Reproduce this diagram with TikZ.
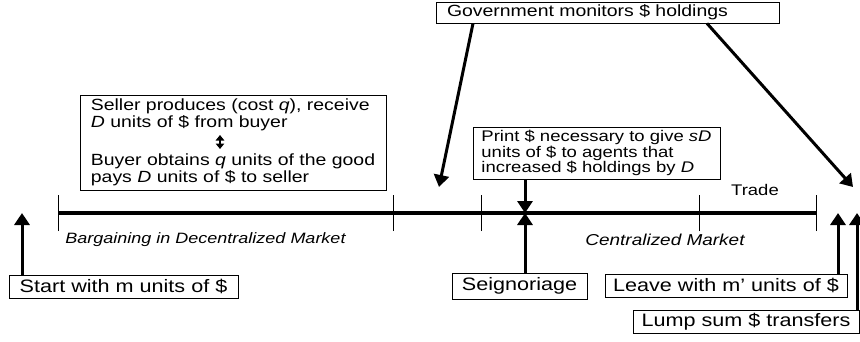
\documentclass[tikz,border=0pt]{standalone}
\usepackage{fontspec}
\setmainfont[FakeStretch=1.2]{Liberation Sans}
\usetikzlibrary{arrows.meta}
\begin{document}
\begin{tikzpicture}[x=1pt,y=-1pt,
  box/.style={draw,line width=0.8pt,inner sep=0pt},
  big/.style={font=\fontsize{18}{20}\selectfont},
  mid/.style={font=\fontsize{16.2}{16.5}\selectfont},
  small/.style={font=\fontsize{15.4}{15.5}\selectfont},
  lab/.style={font=\fontsize{15}{16}\selectfont\itshape},
  thickarrow/.style={line width=3pt,-{Triangle[length=12pt,width=15pt]}},
  tickline/.style={line width=0.9pt},
  timeline/.style={line width=3.5pt}]
\useasboundingbox (0,0) rectangle (860,341);

% timeline
\coordinate (t0) at (58,213);
\coordinate (t1) at (393,213);
\coordinate (t2) at (481,213);
\coordinate (t3) at (699,213);
\coordinate (t4) at (816,213);
\draw[timeline] (t0) -- (t4);
\foreach \t in {t0,t1,t2,t3,t4}{
  \draw[tickline] ([yshift=-18pt]\t) -- ([yshift=18pt]\t);
}

% boxes
\node[box,mid,align=left,minimum width=306,minimum height=95] (seller) at (233,142.5)
 {Seller produces (cost \textit{q}), receive\\ \textit{D} units of \$ from buyer\\[22pt]
  Buyer obtains \textit{q} units of the good\\ pays \textit{D} units of \$ to seller};
\draw[line width=1.3pt,{Triangle[length=5.5pt,width=8.5pt]}-{Triangle[length=5.5pt,width=8.5pt]}] (220,135) -- (220,149);

\node[box,mid,inner xsep=11pt,text width=321pt,align=left,minimum height=21] (gov) at (607.5,12.5) {Government monitors \$ holdings};
\node[box,small,align=left,minimum width=247,minimum height=52] (print) at (596.5,153)
 {Print \$ necessary to give \textit{sD}\\ units of \$ to agents that\\ increased \$ holdings by \textit{D}};

\node[box,big,minimum width=229,minimum height=23] (start) at (123.5,286.5) {Start with m units of \$};
\node[box,big,minimum width=135,minimum height=26] (seig) at (519.5,286) {Seignoriage};
\node[box,big,minimum width=242,minimum height=23] (leave) at (726,285.5) {Leave with m’ units of \$};
\node[box,big,minimum width=226,minimum height=23] (lump) at (746,321.5) {Lump sum \$ transfers};

% labels
\node[small] (trade) at (755,190) {Trade};
\node[lab] (barg) at (205.5,240) {Bargaining in Decentralized Market};
\node[font=\fontsize{15.8}{16}\selectfont\itshape] (cent) at (665,240) {Centralized Market};

% arrow targets
\coordinate (sa) at (22,213);
\coordinate (pa) at (525,213);
\coordinate (la) at (838,213);
\coordinate (ua) at (857,213);
\coordinate (g1) at (439,187);
\coordinate (g2) at (853,187);
\coordinate (g1s) at (473,23);
\coordinate (g2s) at (707,23);

\draw[thickarrow] (sa |- start.north) -- (sa);
\draw[thickarrow] (pa |- seig.north) -- (pa);
\draw[thickarrow] (pa |- print.south) -- (pa);
\draw[thickarrow] (la |- leave.north) -- (la);
\draw[thickarrow] (ua |- lump.north) -- (ua);
\draw[thickarrow] (g1s |- gov.south) -- (g1);
\draw[thickarrow] (g2s |- gov.south) -- (g2);
\end{tikzpicture}
\end{document}
